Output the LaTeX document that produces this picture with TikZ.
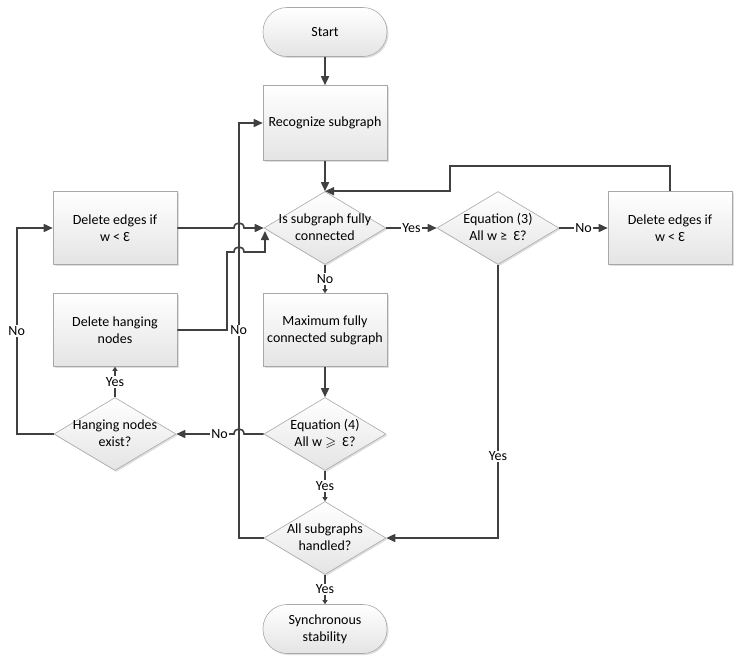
\documentclass[tikz,border=0pt]{standalone}
\usepackage{amssymb}
\usepackage{fontspec}
\setmainfont{Carlito}
\usetikzlibrary{shapes.geometric,arrows.meta,shadows,calc}
\definecolor{linec}{HTML}{404040}
\definecolor{bordc}{HTML}{A8A8A8}
\definecolor{fillc}{HTML}{E4E4E4}
\newcommand\dtext[1]{\smash{\raisebox{-0.3em}{\makebox[0pt]{\begin{tabular}{@{}c@{}}#1\end{tabular}}}}}
\begin{document}
\begin{tikzpicture}[x=1pt,y=-1pt,
  every node/.style={font=\fontsize{14}{17}\selectfont},
  shade/.style={draw=bordc, line width=0.6pt, top color=white, bottom color=fillc,
    drop shadow={opacity=0.25, shadow xshift=1.5pt, shadow yshift=-1.5pt}},
  procbox/.style={shade, rectangle, minimum width=124pt, minimum height=73pt, inner sep=2pt, align=center},
  termbox/.style={shade, rectangle, rounded corners=24pt, minimum width=124pt, minimum height=49pt, inner sep=2pt, align=center},
  decbox/.style={shade, diamond, minimum width=122pt, minimum height=73pt, inner sep=0pt},
  conn/.style={draw=linec, line width=1.6pt, -{Triangle[length=9pt,width=8pt]}},
  sconn/.style={draw=linec, line width=1.6pt, -{Triangle[length=4pt,width=5pt]}},
  lbl/.style={fill=white, inner sep=1pt}]
\useasboundingbox (0,0) rectangle (740,665);

% nodes
\node[termbox] (start) at (325,32) {Start};
\node[procbox, minimum height=75pt] (rec) at (325,123) {Recognize subgraph};
\node[decbox] (d1) at (325,228) {\dtext{Is subgraph fully\\connected}};
\node[decbox] (eq3) at (498,228) {\dtext{Equation (3)\\All w ≥\ \ Ɛ?}};
\node[procbox] (delR) at (670,228) {Delete edges if\\w < Ɛ};
\node[procbox] (delL) at (115,228) {Delete edges if\\w < Ɛ};
\node[procbox] (hang) at (115,330) {Delete hanging\\nodes};
\node[procbox] (max) at (325,330) {Maximum fully\\connected subgraph};
\node[decbox] (eq4) at (325,434) {\dtext{Equation (4)\\All w $\geqslant$\ \ Ɛ?}};
\node[decbox] (dh) at (115,434) {\dtext{Hanging nodes\\exist?}};
\node[decbox] (all) at (325,538) {\dtext{All subgraphs\\handled?}};
\node[termbox] (sync) at (325,629) {Synchronous\\stability};

% connectors
\draw[conn] (start) -- (rec);
\draw[conn] (rec) -- (d1.north);
\draw[conn] (d1.east) -- node[lbl]{Yes} (eq3.west);
\draw[conn] (eq3.east) -- node[lbl]{No} (delR.west);
\draw[conn] (delR.north) -- ++(0,-25) -| ($(d1.north)+(125,0)$) -- (d1.north);
\draw[conn] (eq3.south) |- node[lbl,pos=0.35]{Yes} (all.east);
\draw[sconn] (d1.south) -- node[lbl]{No} (max.north);
\draw[conn] (max) -- (eq4.north);
\draw[sconn] (eq4.south) -- node[lbl]{Yes} (all.north);
\draw[sconn] (all.south) -- node[lbl]{Yes} (sync.north);
\draw[conn] (all.west) -| node[lbl,pos=0.75]{No} ($(rec.west)+(-24,0)$) -- (rec.west);
\draw[conn] (eq4.west) -- (244,434) .. controls (244,427.3) and (234,427.3) .. (234,434)
  -- node[lbl,pos=0.25]{No} (dh.east);
\draw[sconn] (dh.north) -- node[lbl]{Yes} (hang.south);
\draw[conn] (dh.west) -| node[lbl,pos=0.75]{No} ($(delL.west)+(-36,0)$) -- (delL.west);
\draw[conn] (delL.east) -- (234,228) .. controls (234,221.3) and (244,221.3) .. (244,228) -- (d1.west);
\draw[conn] (hang.east) -- (227,330) -- (227,252) -- (234,252)
  .. controls (234,245.3) and (244,245.3) .. (244,252) -- (265,252) -- (265,231);
\end{tikzpicture}
\end{document}
